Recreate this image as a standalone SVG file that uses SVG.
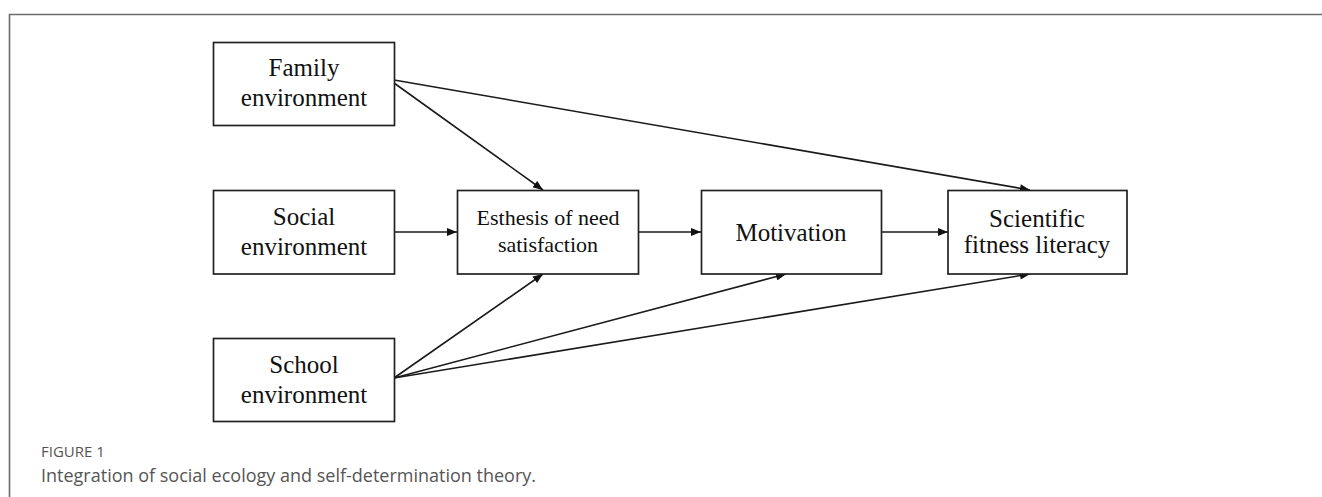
<svg xmlns="http://www.w3.org/2000/svg" width="1322" height="497" viewBox="0 0 1322 497">
<defs>
<style>
.box{fill:#fff;stroke:#222;stroke-width:1.7}
.lbl{font-family:"Liberation Serif","Times New Roman",serif;fill:#111;text-anchor:middle}
.edge{stroke:#1a1a1a;stroke-width:1.6;fill:none;marker-end:url(#ah)}
.frame{stroke:#6b6b70;stroke-width:1.6;fill:none}
.cap{font-family:"Open Sans","Noto Sans",sans-serif;fill:#555}
</style>
<marker id="ah" viewBox="0 0 10 8" refX="10" refY="4" markerWidth="11" markerHeight="8" markerUnits="userSpaceOnUse" orient="auto">
<path d="M0,0 L10,4 L0,8 Z" fill="#111"/>
</marker>
</defs>
<rect width="1322" height="497" fill="#fff"/>
<path class="frame" d="M9.5,497 V14.5 H1322"/>
<g id="connectors">
<line class="edge" x1="394" y1="232" x2="457" y2="232"/>
<line class="edge" x1="638" y1="232" x2="701" y2="232"/>
<line class="edge" x1="881" y1="232" x2="948" y2="232"/>
<line class="edge" x1="394" y1="83" x2="543" y2="190"/>
<line class="edge" x1="394" y1="80" x2="1030" y2="190"/>
<line class="edge" x1="394" y1="378" x2="543" y2="274"/>
<line class="edge" x1="394" y1="378" x2="786" y2="274"/>
<line class="edge" x1="394" y1="378" x2="1030" y2="274"/>
</g>
<g id="family">
<rect class="box" x="213.5" y="42.5" width="181" height="83"/>
<text class="lbl" font-size="25" x="304" y="76">Family</text>
<text class="lbl" font-size="25" x="304" y="106">environment</text>
</g>
<g id="social">
<rect class="box" x="213.5" y="190.5" width="181" height="83.5"/>
<text class="lbl" font-size="25" x="304" y="225">Social</text>
<text class="lbl" font-size="25" x="304" y="255">environment</text>
</g>
<g id="school">
<rect class="box" x="213.5" y="338.5" width="181" height="83"/>
<text class="lbl" font-size="25" x="304" y="373">School</text>
<text class="lbl" font-size="25" x="304" y="403">environment</text>
</g>
<g id="esthesis">
<rect class="box" x="457.5" y="190.5" width="181" height="83.5"/>
<text class="lbl" font-size="22" x="548" y="225">Esthesis of need</text>
<text class="lbl" font-size="22" x="548" y="252">satisfaction</text>
</g>
<g id="motivation">
<rect class="box" x="701.5" y="190.5" width="180" height="83.5"/>
<text class="lbl" font-size="25" x="791" y="241">Motivation</text>
</g>
<g id="scientific">
<rect class="box" x="948" y="190.5" width="179" height="83.5"/>
<text class="lbl" font-size="25" x="1037" y="227">Scientific</text>
<text class="lbl" font-size="25" x="1037" y="253">fitness literacy</text>
</g>
<text class="cap" x="41" y="457" font-size="15">FIGURE 1</text>
<text class="cap" x="41" y="482" font-size="18">Integration of social ecology and self-determination theory.</text>
</svg>
